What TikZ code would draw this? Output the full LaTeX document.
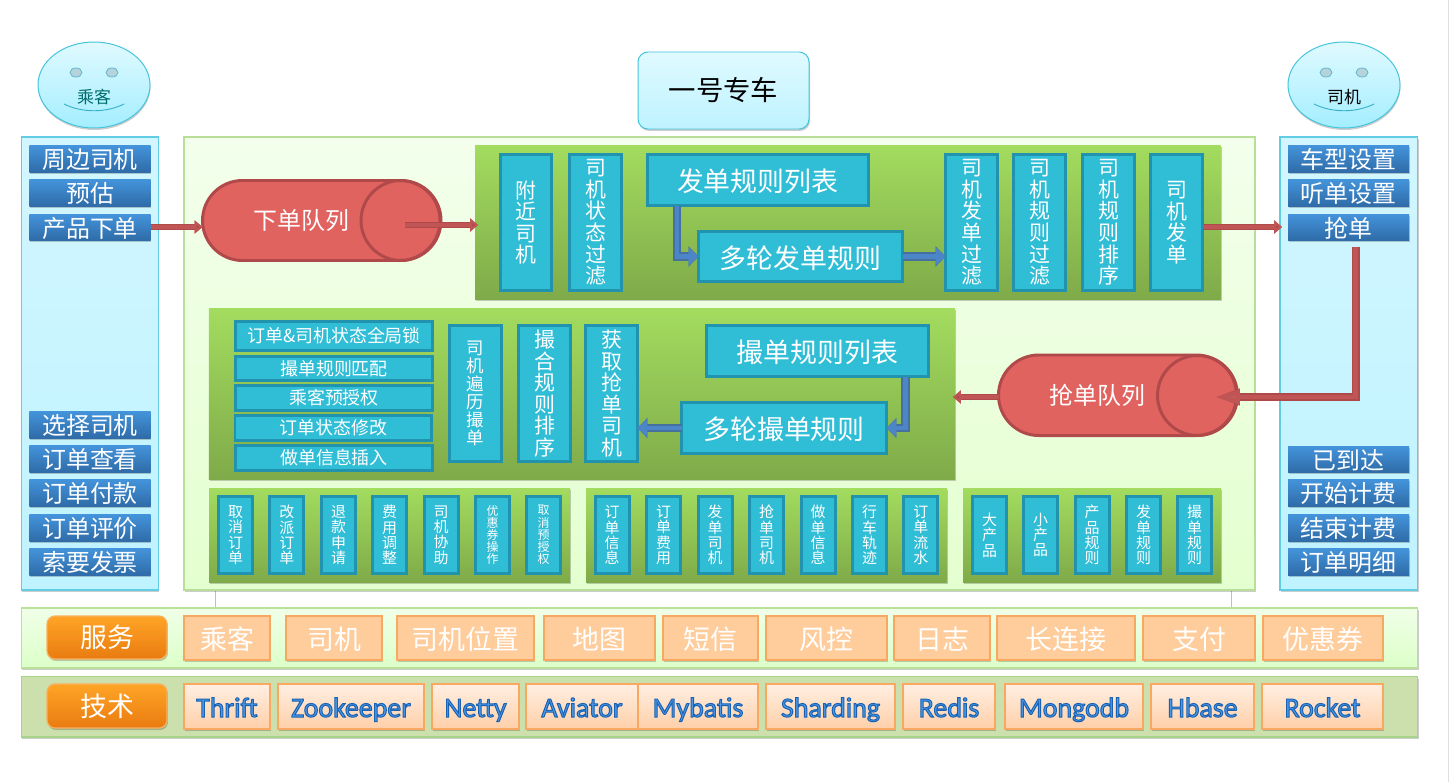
\documentclass[tikz,border=0pt]{standalone}
\usepackage{fontspec}
\setmainfont{Noto Sans CJK SC}
\newfontfamily\techfont{Carlito}
\usetikzlibrary{shapes.misc,shapes.geometric,shadows,arrows.meta,calc}
\definecolor{tealfill}{HTML}{30BDD6}
\definecolor{tealline}{HTML}{2293AE}
\definecolor{greentop}{HTML}{A3DC5F}
\definecolor{greenbot}{HTML}{7FAA49}
\definecolor{redfill}{HTML}{E06360}
\definecolor{redline}{HTML}{B04A4A}
\definecolor{redlight}{HTML}{C05555}
\definecolor{bluedark}{HTML}{44719F}
\definecolor{bluelight}{HTML}{4C86C8}
\definecolor{sidetop}{HTML}{D2F6FF}
\definecolor{sidebot}{HTML}{BEF3FF}
\definecolor{mainline}{HTML}{B8DE98}
\definecolor{maintop}{HTML}{F3FFEC}
\definecolor{mainbot}{HTML}{E4FFCF}
\definecolor{btntop}{HTML}{4494DC}
\definecolor{btnbot}{HTML}{2F6CA8}
\definecolor{faceline}{HTML}{46C4DC}
\definecolor{facetop}{HTML}{E0FAFF}
\definecolor{facebot}{HTML}{A4EEFF}
\definecolor{eyeline}{HTML}{62B8CC}
\definecolor{eyefill}{HTML}{B6D2DA}
\definecolor{smileline}{HTML}{36AFC8}
\definecolor{orangeline}{HTML}{F9B060}
\definecolor{orangetop}{HTML}{FFA526}
\definecolor{orangebot}{HTML}{E97B10}
\definecolor{peachline}{HTML}{F8A860}
\definecolor{peachfill}{HTML}{FFCC9C}
\definecolor{techtop}{HTML}{FFEFE2}
\definecolor{techbot}{HTML}{FFCFA8}
\definecolor{svcline}{HTML}{BAE09A}
\definecolor{svctop}{HTML}{F0FFE8}
\definecolor{svcbot}{HTML}{DCFFC8}
\definecolor{tecfill}{HTML}{CBE0AC}
\definecolor{tecline}{HTML}{A8D48A}
\definecolor{sideline}{HTML}{62CCE4}
\newcommand\fs[2]{\lineskiplimit=-100pt\fontsize{#1}{#2}\selectfont}
\newcommand\mybox[7]{%
  \pgfmathsetmacro\mw{#5-#3}\pgfmathsetmacro\mh{#6-#4}%
  \node[base,#1,minimum width=\mw bp,minimum height=\mh bp] (#2) at ({(#3+#5)/2},{(#4+#6)/2}) {#7};}
\newcommand\tb[7]{%
  \pgfmathsetmacro\mw{#5-#3-3}\pgfmathsetmacro\mh{#6-#4-3}%
  \node[base,teal box,#1,minimum width=\mw bp,minimum height=\mh bp] (#2) at ({(#3+#5)/2},{(#4+#6)/2}) {#7};}
\newcommand\techtext[1]{\special{pdf:code 0.10 0.38 0.70 RG 0.30 0.60 0.90 rg 2 Tr 1 w}#1\special{pdf:code 0 Tr 0 g 0 G 1 w}}
\tikzset{
  base/.style={inner sep=0pt,outer sep=0pt,align=center},
  soft shadow/.style={drop shadow={shadow xshift=1pt,shadow yshift=-2pt,opacity=.2,fill=black}},
  teal box/.style={draw=tealline,line width=3pt,fill=tealfill,text=white},
  v21/.style={font=\fs{21}{21.6}},
  v17/.style={font=\fs{17.5}{18}},
  v15/.style={font=\fs{15}{15.4}},
  v12/.style={font=\fs{12}{12.2}},
  h27/.style={font=\fs{27}{27},text height=24bp,text depth=1bp},
  h18/.style={font=\fs{18}{18}},
  sidepanel/.style={draw=sideline,line width=1.3pt,top color=sidetop,bottom color=sidebot,soft shadow},
  mainpanel/.style={draw=mainline,line width=1.5pt,top color=maintop,bottom color=mainbot,soft shadow},
  greenpanel/.style={top color=greentop,bottom color=greenbot,soft shadow},
  btn/.style={top color=btntop,bottom color=btnbot,text=white,font=\fs{24}{24},text height=21bp,text depth=1bp,soft shadow},
  face/.style={ellipse,draw=faceline,line width=1pt,top color=facetop,bottom color=facebot,
     drop shadow={shadow xshift=.5pt,shadow yshift=-2pt,opacity=.2,fill=black}},
  eye/.style={draw=eyeline,line width=.8pt,fill=eyefill},
  smile/.style={draw=smileline,line width=.9pt},
  queue/.style={rounded rectangle,draw=redline,line width=3pt,fill=redfill,text=white,font=\fs{24}{24}},
  band/.style={line width=1.2pt,soft shadow},
  orange/.style={rounded corners=8pt,draw=orangeline,line width=1.2pt,top color=orangetop,bottom color=orangebot,text=white,font=\fs{27}{27},soft shadow},
  peach/.style={draw=peachline,line width=1.2pt,fill=peachfill,text=white,font=\fs{27}{27},text height=23bp,text depth=1bp,soft shadow},
  techbox/.style={draw=peachline,line width=1.2pt,top color=techtop,bottom color=techbot,font=\techfont\fontsize{28}{28}\selectfont,text height=23bp,text depth=2bp,soft shadow},
  redarrow/.style={line width=4.5pt,draw=redlight,-{Triangle[length=8pt,width=13pt,fill=redline]},
     preaction={draw=redline,line width=7pt,-{Triangle[length=8pt,width=13pt,fill=redline]}}},
  redelbow/.style={line width=5pt,draw=redlight,-{Triangle[length=25pt,width=14pt,fill=redfill]},
     preaction={draw=redline,line width=8pt,-{Triangle[length=25pt,width=15pt,fill=redline]}}},
  bluearrow/.style={line width=5pt,draw=bluelight,-{Triangle[length=10pt,width=18pt,fill=bluelight]},
     preaction={draw=bluedark,line width=8.5pt,-{Triangle[length=10pt,width=20pt,fill=bluedark]}}}
}
\begin{document}
\begin{tikzpicture}[x=1bp,y=-1bp]
\useasboundingbox (0,0) rectangle (1449,782);
\fill[white] (0,0) rectangle (1449,782);
\draw[gray!25,line width=.8pt] (1448,0) -- (1448,782);
\draw[gray!50,line width=.6pt] (215,590) -- (215,608) (1231,590) -- (1231,608);

% faces
\mybox{face}{face1}{38}{42}{150}{128}{}
\draw[eye] (76,72.5) ellipse (6 and 4.5);
\draw[eye] (112,72.5) ellipse (6 and 4.5);
\draw[smile] (64,104) .. controls (82,113) and (106,113) .. (124,104);
\node[base,text=teal!85!black,font=\fs{17}{17}] (facet1) at (94,97) {乘客};
\mybox{face}{face2}{1288}{42}{1400}{128}{}
\draw[eye] (1326,72.5) ellipse (6 and 4.5);
\draw[eye] (1362,72.5) ellipse (6 and 4.5);
\draw[smile] (1314,104) .. controls (1332,113) and (1356,113) .. (1374,104);
\node[base,text=black,font=\fs{17}{17}] (facet2) at (1344,97) {司机};

% title
\mybox{draw=faceline,line width=1pt,rounded corners=10pt,top color=facetop,bottom color=sidebot,soft shadow,font=\fs{27.5}{28}}{title}{638}{52}{809}{129}{一号专车}

% panels
\mybox{sidepanel}{leftp}{21.5}{137}{158.5}{590}{}
\mybox{sidepanel}{rightp}{1280}{137}{1417.5}{590}{}
\mybox{mainpanel}{mainp}{184}{137}{1255}{590}{}

% left buttons
\mybox{btn}{l1}{29.5}{145}{150.5}{172}{周边司机}
\mybox{btn}{l2}{29.5}{179}{150.5}{206}{预估}
\mybox{btn}{l3}{29.5}{214}{150.5}{240}{产品下单}
\mybox{btn}{l4}{29.5}{411}{150.5}{438}{选择司机}
\mybox{btn}{l5}{29.5}{445}{150.5}{472}{订单查看}
\mybox{btn}{l6}{29.5}{479}{150.5}{506}{订单付款}
\mybox{btn}{l7}{29.5}{514}{150.5}{541}{订单评价}
\mybox{btn}{l8}{29.5}{548}{150.5}{575}{索要发票}
% right buttons
\mybox{btn}{r1}{1288}{145}{1409}{172}{车型设置}
\mybox{btn}{r2}{1288}{179}{1409}{206}{听单设置}
\mybox{btn}{r3}{1288}{214}{1409}{240}{抢单}
\mybox{btn}{r4}{1288}{446}{1409}{472}{已到达}
\mybox{btn}{r5}{1288}{479}{1409}{506}{开始计费}
\mybox{btn}{r6}{1288}{514}{1409}{541}{结束计费}
\mybox{btn}{r7}{1288}{548}{1409}{575}{订单明细}

% green panels
\mybox{greenpanel}{gp1}{475}{145}{1220.5}{299}{}
\mybox{greenpanel}{gp2}{209}{308}{955}{479.5}{}
\mybox{greenpanel}{gpa}{209}{488}{570}{582}{}
\mybox{greenpanel}{gpb}{586}{488}{947}{582}{}
\mybox{greenpanel}{gpc}{963}{488}{1221}{582}{}

% top row
\tb{v21}{t1}{499}{153}{553}{292}{附\\近\\司\\机}
\tb{v21}{t2}{568}{153}{623}{292}{司\\机\\状\\态\\过\\滤}
\tb{h27}{t3}{645.5}{153}{870}{207}{发单规则列表}
\tb{h27}{t4}{697}{230}{904}{283}{多轮发单规则}
\tb{v21}{t5}{944}{153}{999}{292}{司\\机\\发\\单\\过\\滤}
\tb{v21}{t6}{1012}{153}{1067}{292}{司\\机\\规\\则\\过\\滤}
\tb{v21}{t7}{1081}{153}{1136}{292}{司\\机\\规\\则\\排\\序}
\tb{v21}{t8}{1149}{153}{1204}{292}{司\\机\\发\\单}

% middle row
\tb{h18}{s1}{234}{320}{434}{352}{订单\&司机状态全局锁}
\tb{h18}{s2}{234}{355}{434}{382}{撮单规则匹配}
\tb{h18}{s3}{234}{384}{434}{412}{乘客预授权}
\tb{h18}{s4}{233.5}{414}{433}{442}{订单状态修改}
\tb{h18}{s5}{234}{444}{434}{472}{做单信息插入}
\tb{v17}{m1}{448}{324}{503}{463}{司\\机\\遍\\历\\撮\\单}
\tb{v21}{m2}{517}{324}{572}{463}{撮\\合\\规\\则\\排\\序}
\tb{v21}{m3}{584}{324}{639}{463}{获\\取\\抢\\单\\司\\机}
\tb{h27}{m4}{705}{324}{930}{378}{撮单规则列表}
\tb{h27}{m5}{680}{401}{888}{455}{多轮撮单规则}

% bottom row A
\tb{v15}{a1}{217}{495}{254}{575}{取\\消\\订\\单}
\tb{v15}{a2}{268.3}{495}{305.3}{575}{改\\派\\订\\单}
\tb{v15}{a3}{320}{495}{357}{575}{退\\款\\申\\请}
\tb{v15}{a4}{371}{495}{408}{575}{费\\用\\调\\整}
\tb{v15}{a5}{422.5}{495}{459.5}{575}{司\\机\\协\\助}
\tb{v12}{a6}{474}{495}{511}{575}{优\\惠\\券\\操\\作}
\tb{v12}{a7}{525}{495}{562}{575}{取\\消\\预\\授\\权}
% bottom row B
\tb{v15}{b1}{593.7}{495}{630.7}{575}{订\\单\\信\\息}
\tb{v15}{b2}{645}{495}{682}{575}{订\\单\\费\\用}
\tb{v15}{b3}{696.6}{495}{733.6}{575}{发\\单\\司\\机}
\tb{v15}{b4}{748}{495}{785}{575}{抢\\单\\司\\机}
\tb{v15}{b5}{799.5}{495}{836.5}{575}{做\\单\\信\\息}
\tb{v15}{b6}{851}{495}{888}{575}{行\\车\\轨\\迹}
\tb{v15}{b7}{902.4}{495}{939.4}{575}{订\\单\\流\\水}
% bottom row C
\tb{v15}{c1}{971}{495}{1008}{575}{大\\产\\品}
\tb{v15}{c2}{1022}{495}{1059}{575}{小\\产\\品}
\tb{v15}{c3}{1073.5}{495}{1110.5}{575}{产\\品\\规\\则}
\tb{v15}{c4}{1125}{495}{1162}{575}{发\\单\\规\\则}
\tb{v15}{c5}{1176}{495}{1213}{575}{撮\\单\\规\\则}

% queues
\mybox{queue}{q1}{202.5}{180.5}{440}{260.5}{下单队列\hspace*{40pt}}
\mybox{queue}{q2}{998.5}{355}{1236.5}{435.5}{抢单队列\hspace*{40pt}}
\draw[redline,line width=3pt] (401,220.5) ellipse (40 and 40);
\draw[redline,line width=3pt] (1197.5,395.5) ellipse (40 and 40);
\coordinate (q1c) at (405,225);
\coordinate (q2c) at (1215,397);

% bands
\mybox{band,draw=svcline,top color=svctop,bottom color=svcbot}{svc}{21.5}{608}{1417.5}{668}{}
\mybox{band,draw=tecline,fill=tecfill}{tec}{21.5}{676.5}{1417.5}{737}{}
\mybox{orange}{o1}{47}{616}{167}{659}{服务}
\mybox{orange}{o2}{47}{684}{167}{728}{技术}
\mybox{peach}{p1}{184}{616}{270}{660}{乘客}
\mybox{peach}{p2}{286}{616}{382}{660}{司机}
\mybox{peach}{p3}{397}{616}{534}{660}{司机位置}
\mybox{peach}{p4}{544}{616}{655}{660}{地图}
\mybox{peach}{p5}{663}{616}{758}{660}{短信}
\mybox{peach}{p6}{766}{616}{887}{660}{风控}
\mybox{peach}{p7}{894}{616}{990}{660}{日志}
\mybox{peach}{p8}{997}{616}{1135}{660}{长连接}
\mybox{peach}{p9}{1143}{616}{1255}{660}{支付}
\mybox{peach}{p10}{1263}{616}{1383}{660}{优惠券}
\mybox{techbox}{k1}{184}{684}{270}{729}{\techtext{Thrift}}
\mybox{techbox}{k2}{278}{684}{424}{729}{\techtext{Zookeeper}}
\mybox{techbox}{k3}{432}{684}{519}{729}{\techtext{Netty}}
\mybox{techbox}{k4}{526}{684}{638}{729}{\techtext{Aviator}}
\mybox{techbox}{k5}{638}{684}{758}{729}{\techtext{Mybatis}}
\mybox{techbox}{k6}{766}{684}{895}{729}{\techtext{Sharding}}
\mybox{techbox}{k7}{903}{684}{995}{729}{\techtext{Redis}}
\mybox{techbox}{k8}{1005}{684}{1143}{729}{\techtext{Mongodb}}
\mybox{techbox}{k9}{1151}{684}{1254}{729}{\techtext{Hbase}}
\mybox{techbox}{k10}{1262}{684}{1383}{729}{\techtext{Rocket}}

% connectors
\draw[redarrow] (l3.east) -- (l3.east -| q1.west);
\draw[redarrow] (q1c) -- ($(q1c -| gp1.west)+(3,0)$);
\draw[redarrow] (t8.east |- r3.west) -- ($(r3.west)+(-6,0)$);
\draw[redelbow] ($(r3.south)+(7,7)$) |- (q2c);
\draw[redarrow] (q2.west |- q2c) -- ($(q2c -| gp2.east)+(-2,0)$);
\draw[bluearrow] ($(t3.south west)+(30,0)$) |- (t4.west);
\draw[bluearrow] (t4.east) -- (t4.east -| t5.west);
\draw[bluearrow] ($(m4.south east)+(-23,0)$) |- (m5.east);
\draw[bluearrow] (m5.west) -- (m5.west -| m3.east);
\end{tikzpicture}
\end{document}
